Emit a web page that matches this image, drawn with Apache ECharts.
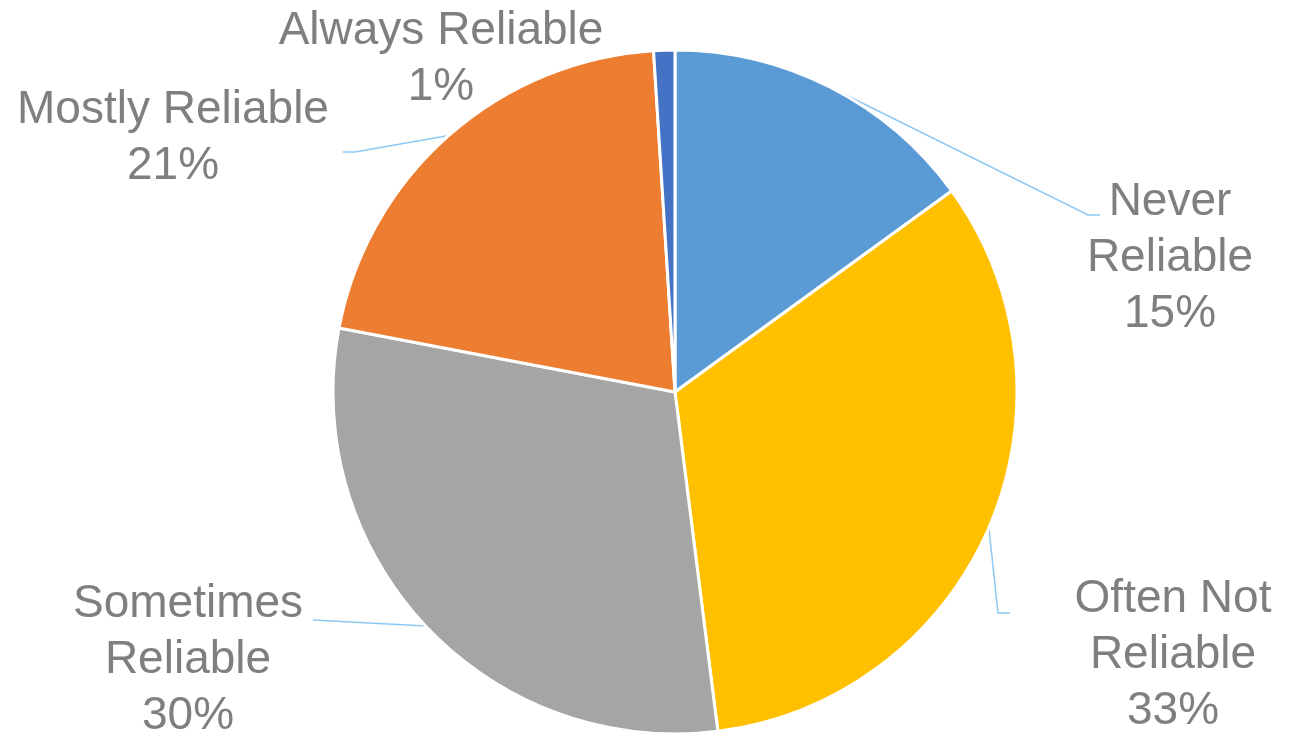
<!DOCTYPE html>
<html>
<head>
<meta charset="utf-8">
<script src="https://cdn.jsdelivr.net/npm/echarts@6/dist/echarts.min.js"></script>
<style>html,body{margin:0;padding:0;background:#fff}#c{width:1289px;height:735px}</style>
</head>
<body>
<div id="c"></div>
<script>
const categories = ['Never Reliable', 'Often Not Reliable', 'Sometimes Reliable', 'Mostly Reliable', 'Always Reliable'];
const values = [15, 33, 30, 21, 1];
const colors = ['#5B9BD5', '#FFC000', '#A5A5A5', '#ED7D31', '#4472C4'];
const wrapName = [true, true, true, false, false];

// label placement (centre of label block) and leader-line elbow/end
const labelPos = [[1170, 258], [1173, 655], [188, 660], [173, 138], [441, 59]];
const leader = [
  [[1088, 215], [1100, 215]],
  [[998, 613], [1010, 613]],
  [[313, 620], [313, 620]],
  [[355, 152], [343, 152]],
  null
];

const chart = echarts.init(document.getElementById('c'));
const data = categories.map((n, i) => ({
  name: n,
  value: values[i],
  itemStyle: { color: colors[i] },
  labelLine: { show: leader[i] !== null }
}));

chart.setOption({
  animation: false,
  series: [{
    type: 'pie',
    center: [675, 392],
    radius: 342,
    startAngle: 90,
    clockwise: true,
    data: data,
    itemStyle: { borderColor: '#ffffff', borderWidth: 3 },
    label: {
      show: true,
      position: 'outside',
      fontFamily: 'Liberation Sans, Arial, sans-serif',
      fontSize: 46,
      lineHeight: 56,
      color: '#7F7F7F',
      align: 'center',
      formatter: p => {
        const nm = wrapName[p.dataIndex] ? p.name.replace(/ (\S+)$/, '\n$1') : p.name;
        return nm + '\n' + Math.round(p.percent) + '%';
      }
    },
    labelLine: {
      show: true,
      lineStyle: { color: '#8EC9F5', width: 1.5 },
      length: 10,
      length2: 10
    },
    labelLayout: params => {
      const i = params.dataIndex;
      const res = {
        x: labelPos[i][0],
        y: labelPos[i][1],
        align: 'center',
        verticalAlign: 'middle'
      };
      if (leader[i] && params.labelLinePoints) {
        res.labelLinePoints = [params.labelLinePoints[0], leader[i][0], leader[i][1]];
      }
      return res;
    }
  }]
});
</script>
</body>
</html>
